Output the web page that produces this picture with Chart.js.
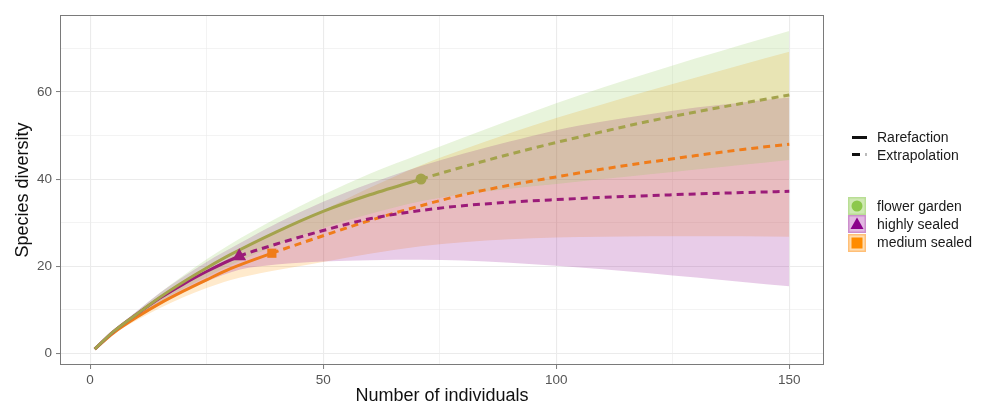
<!DOCTYPE html>
<html><head><meta charset="utf-8">
<script src="https://cdn.jsdelivr.net/npm/chart.js@4"></script>
<style>
html,body{margin:0;padding:0;background:#fff;}
#wrap{position:relative;width:989px;height:406px;font-family:"Liberation Sans",Arial,sans-serif;}
canvas{position:absolute;left:0;top:0;}
.lg{position:absolute;font-size:14px;color:#1a1a1a;line-height:17px;white-space:nowrap;}
</style></head><body>
<div id="wrap"><canvas id="c" width="989" height="406"></canvas><div id="legend"></div></div>
<script>
// ---- data ----
const categories = ['flower garden', 'highly sealed', 'medium sealed'];
const referenceSizes = [71, 32, 39];
const methodLabels = ['Rarefaction', 'Extrapolation'];
const xTickLabels = [0, 50, 100, 150];
const yTickLabels = [0, 20, 40, 60];

const fgX     = [1, 5, 10, 15, 20, 25, 30, 40, 50, 60, 71, 80, 90, 100, 110, 120, 130, 140, 150];
const fgMean  = [1, 5.0, 9.0, 12.9, 16.4, 19.6, 22.6, 27.9, 32.6, 36.4, 40.0, 42.8, 45.7, 48.4, 50.9, 53.3, 55.4, 57.4, 59.3];
const fgLower = [1, 4.7, 8.4, 11.9, 14.9, 17.6, 20.2, 24.8, 28.8, 32.0, 34.9, 36.5, 37.8, 38.9, 40.0, 41.1, 42.2, 43.3, 44.4];
const fgUpper = [1, 5.3, 9.6, 13.9, 17.9, 21.6, 25.0, 31.0, 36.4, 41.2, 45.8, 49.5, 53.5, 57.4, 61.0, 64.4, 67.7, 70.9, 74.0];

const hsX     = [1, 5, 10, 15, 20, 25, 32, 40, 50, 60, 71, 80, 90, 100, 110, 120, 130, 140, 150];
const hsMean  = [1, 5.0, 9.0, 12.7, 15.9, 18.8, 22.3, 25.1, 28.2, 30.9, 32.8, 33.9, 34.7, 35.3, 35.8, 36.2, 36.6, 36.9, 37.2];
const hsLower = [1, 4.7, 8.3, 11.5, 14.2, 16.5, 19.2, 20.4, 21.1, 21.4, 21.5, 21.3, 20.8, 20.1, 19.3, 18.4, 17.4, 16.4, 15.4];
const hsUpper = [1, 5.3, 9.7, 13.9, 17.6, 21.0, 25.2, 29.8, 34.8, 39.0, 43.0, 45.8, 48.6, 51.2, 53.2, 54.9, 56.4, 57.6, 58.7];

const msX     = [1, 5, 10, 15, 20, 25, 30, 39, 50, 60, 71, 80, 90, 100, 110, 120, 130, 140, 150];
const msMean  = [1, 4.7, 8.3, 11.5, 14.3, 16.9, 19.4, 23.0, 27.0, 30.5, 33.9, 36.4, 38.6, 40.5, 42.3, 43.9, 45.4, 46.8, 48.0];
const msLower = [1, 4.4, 7.6, 10.4, 12.9, 15.0, 16.8, 18.9, 21.0, 22.9, 24.6, 25.5, 26.2, 26.6, 26.8, 26.9, 26.9, 26.9, 26.8];
const msUpper = [1, 5.0, 9.0, 12.6, 15.8, 18.9, 22.0, 27.4, 32.8, 38.0, 43.2, 46.8, 50.5, 54.0, 57.2, 60.3, 63.3, 66.3, 69.2];

// ---- styles ----
const seriesData = [
  {x: fgX, mean: fgMean, lo: fgLower, hi: fgUpper},
  {x: hsX, mean: hsMean, lo: hsLower, hi: hsUpper},
  {x: msX, mean: msMean, lo: msLower, hi: msUpper}
];
const lineColors = ['#A4A34C', '#9B1B79', '#F07C1A'];
const ribbonColors = ['rgba(140,200,80,0.2)', 'rgba(140,0,140,0.2)', 'rgba(255,150,0,0.2)'];
const markerColors = ['#8CC84B', '#8B008B', '#FF8C00'];
const pointStyles = ['circle', 'triangle', 'rect'];
const pointRadii = [5.5, 8, 6.5];

const pts = (xs, ys) => xs.map((x, i) => ({x: x, y: ys[i]}));
const datasets = [];
seriesData.forEach((s, i) => {
  datasets.push({label: categories[i] + ' lower', data: pts(s.x, s.lo), borderWidth: 0, pointRadius: 0, fill: false, order: 20, cubicInterpolationMode: 'monotone'});
  datasets.push({label: categories[i] + ' upper', data: pts(s.x, s.hi), borderWidth: 0, pointRadius: 0, fill: '-1', backgroundColor: ribbonColors[i], order: 20, cubicInterpolationMode: 'monotone'});
});
seriesData.forEach((s, i) => {
  const ref = referenceSizes[i];
  datasets.push({
    label: categories[i], data: pts(s.x, s.mean), borderColor: lineColors[i], borderWidth: 3,
    pointRadius: 0, fill: false, order: 5, cubicInterpolationMode: 'monotone',
    segment: {borderDash: ctx => ctx.p0.parsed.x >= ref ? [7, 5] : undefined}
  });
});
seriesData.forEach((s, i) => {
  const ref = referenceSizes[i];
  const idx = s.x.indexOf(ref);
  datasets.push({label: categories[i] + ' observed', data: [{x: ref, y: s.mean[idx]}], showLine: false, pointStyle: pointStyles[i], pointRadius: pointRadii[i], backgroundColor: lineColors[i], borderColor: lineColors[i], borderWidth: 0, order: 1});
});

const frame = {
  id: 'frame',
  afterDatasetsDraw(chart) {
    const a = chart.chartArea, ctx = chart.ctx;
    ctx.save();
    ctx.strokeStyle = '#7a7a7a';
    ctx.lineWidth = 1;
    ctx.strokeRect(Math.round(a.left) + 0.5, Math.round(a.top) + 0.5, Math.round(a.right - a.left) - 1, Math.round(a.bottom - a.top) - 1);
    ctx.restore();
  }
};

const isMajorX = v => xTickLabels.includes(v);
const isMajorY = v => yTickLabels.includes(v);

new Chart(document.getElementById('c'), {
  type: 'line',
  data: {datasets: datasets},
  plugins: [frame],
  options: {
    responsive: false,
    animation: false,
    events: [],
    layout: {padding: {left: 0, top: 15, right: 165, bottom: 0}},
    plugins: {legend: {display: false}, tooltip: {enabled: false}},
    scales: {
      x: {
        type: 'linear', min: -6.45, max: 157.45,
        afterFit: s => { s.height = 41; },
        border: {display: false},
        grid: {
          color: '#EBEBEB',
          lineWidth: c => (c.tick && isMajorX(c.tick.value)) ? 1.1 : 0.6,
          tickColor: c => (c.tick && isMajorX(c.tick.value)) ? '#7a7a7a' : 'rgba(0,0,0,0)',
          tickLength: 4, tickWidth: 1
        },
        ticks: {
          stepSize: 25, includeBounds: false, autoSkip: false, maxRotation: 0,
          callback: v => isMajorX(v) ? String(v) : '',
          color: '#555', font: {family: 'Liberation Sans', size: 13.5}, padding: 3
        },
        title: {display: true, text: 'Number of individuals', color: '#111', font: {family: 'Liberation Sans', size: 18}, padding: {top: 0, bottom: -1}}
      },
      y: {
        type: 'linear', min: -2.65, max: 77.65,
        afterFit: s => { s.width = 60; },
        border: {display: false},
        grid: {
          color: '#EBEBEB',
          lineWidth: c => (c.tick && isMajorY(c.tick.value)) ? 1.1 : 0.6,
          tickColor: c => (c.tick && isMajorY(c.tick.value)) ? '#7a7a7a' : 'rgba(0,0,0,0)',
          tickLength: 4, tickWidth: 1
        },
        ticks: {
          stepSize: 10, includeBounds: false, autoSkip: false,
          callback: v => isMajorY(v) ? String(v) : '',
          color: '#555', font: {family: 'Liberation Sans', size: 13.5}, padding: 4
        },
        title: {display: true, text: 'Species diversity', color: '#111', font: {family: 'Liberation Sans', size: 18}, padding: {top: 12, bottom: 0}}
      }
    }
  }
});

// ---- legend (HTML text) ----
const lg = document.getElementById('legend');
let html = '';
html += '<div style="position:absolute;left:852px;top:136px;width:15px;height:3px;background:#111"></div>';
html += '<div class="lg" style="left:877px;top:129px">' + methodLabels[0] + '</div>';
html += '<div style="position:absolute;left:852px;top:153px;width:8px;height:3px;background:#111"></div>';
html += '<div style="position:absolute;left:865px;top:153px;width:2px;height:3px;background:#bbb"></div>';
html += '<div class="lg" style="left:877px;top:146.5px">' + methodLabels[1] + '</div>';
const keyFill = ['#CFE9B3', '#E2B8E2', '#FFDDB0'];
const keyBorder = ['#B9DE95', '#CC8FCC', '#FFBF78'];
categories.forEach((c, i) => {
  const top = 197 + i * 18.3;
  let shape = '';
  if (i === 0) shape = '<circle cx="9" cy="9" r="5.5" fill="' + markerColors[0] + '"/>';
  if (i === 1) shape = '<polygon points="9,2.5 15.5,14 2.5,14" fill="' + markerColors[1] + '"/>';
  if (i === 2) shape = '<rect x="3.5" y="3.5" width="11" height="11" fill="' + markerColors[2] + '"/>';
  html += '<svg style="position:absolute;left:848px;top:' + top + 'px" width="18" height="18"><rect x="0.75" y="0.75" width="16.5" height="16.5" fill="' + keyFill[i] + '" stroke="' + keyBorder[i] + '" stroke-width="1.5"/>' + shape + '</svg>';
  html += '<div class="lg" style="left:877px;top:' + (top + 0.5) + 'px">' + c + '</div>';
});
lg.innerHTML = html;
</script>
</body></html>
